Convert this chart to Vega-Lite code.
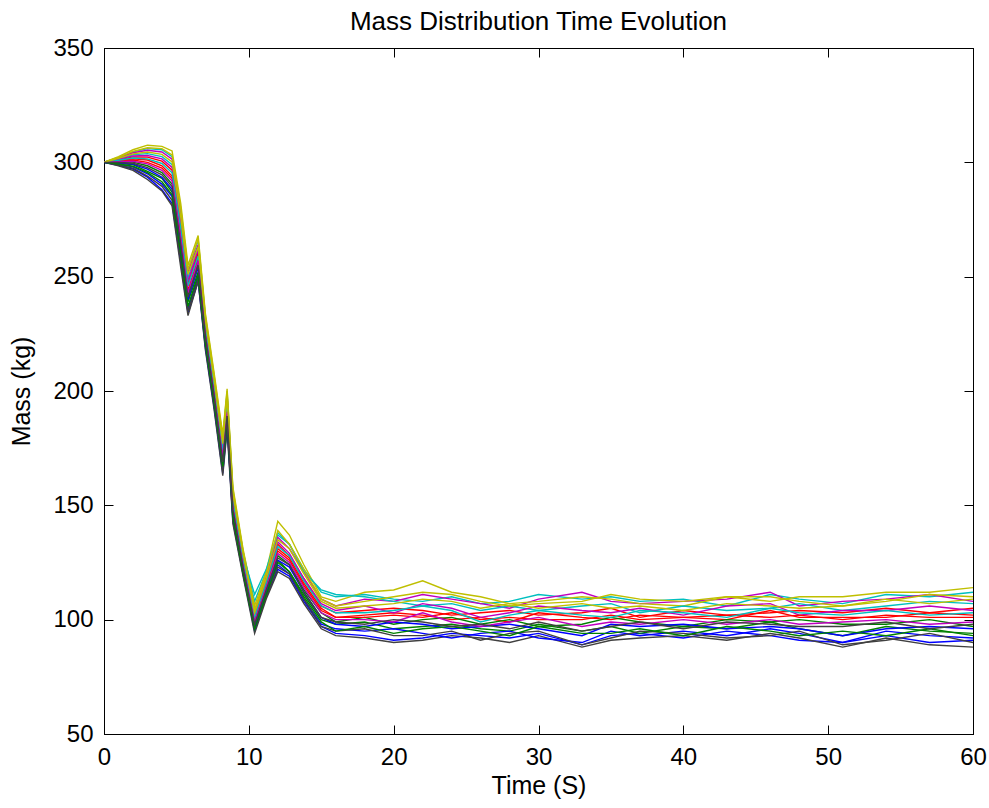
{
"$schema": "https://vega.github.io/schema/vega-lite/v6.json",
"width": 869, "height": 686,
"autosize": {"type": "none"},
"padding": {"left": 104, "top": 48, "right": 16, "bottom": 74},
"background": "white",
"title": {"text": "Mass Distribution Time Evolution", "fontSize": 26, "font": "Liberation Sans", "fontWeight": "normal", "color": "#000000", "offset": 1, "frame": "group"},
"config": {
  "view": {"stroke": "#000000", "strokeWidth": 1},
  "axis": {"domainColor": "#000000", "domainWidth": 1, "tickColor": "#000000", "tickSize": -9, "tickWidth": 1, "grid": false, "labelFlush": false,
    "labelFont": "Liberation Sans", "labelFontSize": 24, "labelColor": "#000000", "labelPadding": 20,
    "titleFont": "Liberation Sans", "titleFontSize": 25, "titleFontWeight": "normal", "titleColor": "#000000"}
},
"datasets": {"mass": [
{"s":"01","t":0,"m":300},{"s":"01","t":1,"m":298.7},{"s":"01","t":2,"m":297},{"s":"01","t":3,"m":293.5},{"s":"01","t":4,"m":288},{"s":"01","t":4.7,"m":282},{"s":"01","t":5.3,"m":256},{"s":"01","t":5.8,"m":234},{"s":"01","t":6.5,"m":248},{"s":"01","t":7,"m":219},{"s":"01","t":7.6,"m":193},{"s":"01","t":8.2,"m":164},{"s":"01","t":8.5,"m":185},{"s":"01","t":8.9,"m":143},{"s":"01","t":9.6,"m":120},{"s":"01","t":10.4,"m":95},{"s":"01","t":11.2,"m":110},{"s":"01","t":12,"m":122},{"s":"01","t":12.8,"m":119},{"s":"01","t":13.8,"m":108},{"s":"01","t":15,"m":97},{"s":"01","t":16,"m":94},{"s":"01","t":18,"m":93},{"s":"01","t":20,"m":91},{"s":"01","t":22,"m":92},{"s":"01","t":24,"m":94},{"s":"01","t":26,"m":93},{"s":"01","t":28,"m":92},{"s":"01","t":30,"m":94},{"s":"01","t":33,"m":89},{"s":"01","t":35,"m":93},{"s":"01","t":37,"m":94},{"s":"01","t":40,"m":92},{"s":"01","t":43,"m":95},{"s":"01","t":46,"m":93},{"s":"01","t":48,"m":91},{"s":"01","t":51,"m":90},{"s":"01","t":54,"m":93},{"s":"01","t":57,"m":90},{"s":"01","t":60,"m":91},
{"s":"02","t":0,"m":300},{"s":"02","t":1,"m":299.5},{"s":"02","t":2,"m":299},{"s":"02","t":3,"m":296},{"s":"02","t":4,"m":293},{"s":"02","t":4.7,"m":287},{"s":"02","t":5.3,"m":262},{"s":"02","t":5.8,"m":239},{"s":"02","t":6.5,"m":252},{"s":"02","t":7,"m":222},{"s":"02","t":7.6,"m":196},{"s":"02","t":8.2,"m":167},{"s":"02","t":8.5,"m":188},{"s":"02","t":8.9,"m":146},{"s":"02","t":9.6,"m":122},{"s":"02","t":10.4,"m":97},{"s":"02","t":11.2,"m":113},{"s":"02","t":12,"m":126},{"s":"02","t":12.8,"m":121},{"s":"02","t":13.8,"m":111},{"s":"02","t":15,"m":100},{"s":"02","t":16,"m":98},{"s":"02","t":18,"m":99},{"s":"02","t":20,"m":96},{"s":"02","t":22,"m":97},{"s":"02","t":24,"m":98},{"s":"02","t":26,"m":96},{"s":"02","t":28,"m":95},{"s":"02","t":30,"m":98},{"s":"02","t":33,"m":95},{"s":"02","t":35,"m":97},{"s":"02","t":37,"m":94},{"s":"02","t":40,"m":97},{"s":"02","t":43,"m":96},{"s":"02","t":46,"m":99},{"s":"02","t":48,"m":96},{"s":"02","t":51,"m":93},{"s":"02","t":54,"m":97},{"s":"02","t":57,"m":95},{"s":"02","t":60,"m":94},
{"s":"03","t":0,"m":300},{"s":"03","t":1,"m":300.7},{"s":"03","t":2,"m":301.5},{"s":"03","t":3,"m":301},{"s":"03","t":4,"m":298.5},{"s":"03","t":4.7,"m":294},{"s":"03","t":5.3,"m":270},{"s":"03","t":5.8,"m":246},{"s":"03","t":6.5,"m":260},{"s":"03","t":7,"m":227},{"s":"03","t":7.6,"m":201},{"s":"03","t":8.2,"m":173},{"s":"03","t":8.5,"m":193},{"s":"03","t":8.9,"m":151},{"s":"03","t":9.6,"m":126},{"s":"03","t":10.4,"m":101},{"s":"03","t":11.2,"m":116},{"s":"03","t":12,"m":131},{"s":"03","t":12.8,"m":127},{"s":"03","t":13.8,"m":116},{"s":"03","t":15,"m":105},{"s":"03","t":16,"m":101},{"s":"03","t":18,"m":102},{"s":"03","t":20,"m":103},{"s":"03","t":22,"m":102},{"s":"03","t":24,"m":100},{"s":"03","t":26,"m":101},{"s":"03","t":28,"m":99},{"s":"03","t":30,"m":103},{"s":"03","t":33,"m":101},{"s":"03","t":35,"m":100},{"s":"03","t":37,"m":102},{"s":"03","t":40,"m":101},{"s":"03","t":43,"m":100},{"s":"03","t":46,"m":104},{"s":"03","t":48,"m":101},{"s":"03","t":51,"m":101},{"s":"03","t":54,"m":101},{"s":"03","t":57,"m":103},{"s":"03","t":60,"m":102},
{"s":"04","t":0,"m":300},{"s":"04","t":1,"m":302.1},{"s":"04","t":2,"m":304.6},{"s":"04","t":3,"m":306},{"s":"04","t":4,"m":305.5},{"s":"04","t":4.7,"m":302.5},{"s":"04","t":5.3,"m":279},{"s":"04","t":5.8,"m":253},{"s":"04","t":6.5,"m":266},{"s":"04","t":7,"m":232},{"s":"04","t":7.6,"m":206},{"s":"04","t":8.2,"m":179},{"s":"04","t":8.5,"m":199},{"s":"04","t":8.9,"m":156},{"s":"04","t":9.6,"m":130},{"s":"04","t":10.4,"m":108},{"s":"04","t":11.2,"m":121},{"s":"04","t":12,"m":137},{"s":"04","t":12.8,"m":133},{"s":"04","t":13.8,"m":122},{"s":"04","t":15,"m":112},{"s":"04","t":16,"m":110},{"s":"04","t":18,"m":111},{"s":"04","t":20,"m":109},{"s":"04","t":22,"m":108},{"s":"04","t":24,"m":110},{"s":"04","t":26,"m":107},{"s":"04","t":28,"m":108},{"s":"04","t":30,"m":111},{"s":"04","t":33,"m":109},{"s":"04","t":35,"m":110},{"s":"04","t":37,"m":108},{"s":"04","t":40,"m":109},{"s":"04","t":43,"m":106},{"s":"04","t":46,"m":111},{"s":"04","t":48,"m":109},{"s":"04","t":51,"m":107},{"s":"04","t":54,"m":111},{"s":"04","t":57,"m":110},{"s":"04","t":60,"m":112},
{"s":"05","t":0,"m":300},{"s":"05","t":1,"m":301.9},{"s":"05","t":2,"m":304.2},{"s":"05","t":3,"m":305.3},{"s":"05","t":4,"m":304.5},{"s":"05","t":4.7,"m":301.4},{"s":"05","t":5.3,"m":277},{"s":"05","t":5.8,"m":252},{"s":"05","t":6.5,"m":264},{"s":"05","t":7,"m":231},{"s":"05","t":7.6,"m":205},{"s":"05","t":8.2,"m":178},{"s":"05","t":8.5,"m":198},{"s":"05","t":8.9,"m":155},{"s":"05","t":9.6,"m":129},{"s":"05","t":10.4,"m":104},{"s":"05","t":11.2,"m":119},{"s":"05","t":12,"m":136},{"s":"05","t":12.8,"m":131},{"s":"05","t":13.8,"m":121},{"s":"05","t":15,"m":109},{"s":"05","t":16,"m":106},{"s":"05","t":18,"m":109},{"s":"05","t":20,"m":108},{"s":"05","t":22,"m":111},{"s":"05","t":24,"m":109},{"s":"05","t":26,"m":107},{"s":"05","t":28,"m":105},{"s":"05","t":30,"m":109},{"s":"05","t":33,"m":112},{"s":"05","t":35,"m":108},{"s":"05","t":37,"m":107},{"s":"05","t":40,"m":108},{"s":"05","t":43,"m":109},{"s":"05","t":46,"m":112},{"s":"05","t":48,"m":106},{"s":"05","t":51,"m":108},{"s":"05","t":54,"m":109},{"s":"05","t":57,"m":111},{"s":"05","t":60,"m":108},
{"s":"06","t":0,"m":300},{"s":"06","t":1,"m":302.5},{"s":"06","t":2,"m":305.5},{"s":"06","t":3,"m":307.5},{"s":"06","t":4,"m":307},{"s":"06","t":4.7,"m":305},{"s":"06","t":5.3,"m":282},{"s":"06","t":5.8,"m":255},{"s":"06","t":6.5,"m":268},{"s":"06","t":7,"m":234},{"s":"06","t":7.6,"m":208},{"s":"06","t":8.2,"m":181},{"s":"06","t":8.5,"m":201},{"s":"06","t":8.9,"m":158},{"s":"06","t":9.6,"m":131},{"s":"06","t":10.4,"m":106},{"s":"06","t":11.2,"m":121},{"s":"06","t":12,"m":143},{"s":"06","t":12.8,"m":137},{"s":"06","t":13.8,"m":124},{"s":"06","t":15,"m":110},{"s":"06","t":16,"m":108},{"s":"06","t":18,"m":112},{"s":"06","t":20,"m":113},{"s":"06","t":22,"m":117},{"s":"06","t":24,"m":112},{"s":"06","t":26,"m":110},{"s":"06","t":28,"m":107},{"s":"06","t":30,"m":108},{"s":"06","t":33,"m":110},{"s":"06","t":35,"m":109},{"s":"06","t":37,"m":107},{"s":"06","t":40,"m":106},{"s":"06","t":43,"m":110},{"s":"06","t":46,"m":108},{"s":"06","t":48,"m":110},{"s":"06","t":51,"m":110},{"s":"06","t":54,"m":112},{"s":"06","t":57,"m":112},{"s":"06","t":60,"m":114},
{"s":"07","t":0,"m":300},{"s":"07","t":1,"m":298.5},{"s":"07","t":2,"m":296.5},{"s":"07","t":3,"m":292.5},{"s":"07","t":4,"m":287.5},{"s":"07","t":4.7,"m":281},{"s":"07","t":5.3,"m":254},{"s":"07","t":5.8,"m":233},{"s":"07","t":6.5,"m":248},{"s":"07","t":7,"m":218},{"s":"07","t":7.6,"m":192},{"s":"07","t":8.2,"m":163},{"s":"07","t":8.5,"m":183},{"s":"07","t":8.9,"m":142},{"s":"07","t":9.6,"m":119},{"s":"07","t":10.4,"m":94},{"s":"07","t":11.2,"m":109},{"s":"07","t":12,"m":121},{"s":"07","t":12.8,"m":118},{"s":"07","t":13.8,"m":107},{"s":"07","t":15,"m":96},{"s":"07","t":16,"m":93},{"s":"07","t":18,"m":92},{"s":"07","t":20,"m":90},{"s":"07","t":22,"m":91},{"s":"07","t":24,"m":93},{"s":"07","t":26,"m":92},{"s":"07","t":28,"m":90},{"s":"07","t":30,"m":93},{"s":"07","t":33,"m":88},{"s":"07","t":35,"m":91},{"s":"07","t":37,"m":92},{"s":"07","t":40,"m":93},{"s":"07","t":43,"m":91},{"s":"07","t":46,"m":94},{"s":"07","t":48,"m":92},{"s":"07","t":51,"m":88},{"s":"07","t":54,"m":92},{"s":"07","t":57,"m":89},{"s":"07","t":60,"m":88},
{"s":"08","t":0,"m":300},{"s":"08","t":1,"m":299.1},{"s":"08","t":2,"m":298},{"s":"08","t":3,"m":295},{"s":"08","t":4,"m":290.5},{"s":"08","t":4.7,"m":285},{"s":"08","t":5.3,"m":258},{"s":"08","t":5.8,"m":236},{"s":"08","t":6.5,"m":250},{"s":"08","t":7,"m":220},{"s":"08","t":7.6,"m":194},{"s":"08","t":8.2,"m":166},{"s":"08","t":8.5,"m":186},{"s":"08","t":8.9,"m":145},{"s":"08","t":9.6,"m":121},{"s":"08","t":10.4,"m":96},{"s":"08","t":11.2,"m":111},{"s":"08","t":12,"m":124},{"s":"08","t":12.8,"m":120},{"s":"08","t":13.8,"m":109},{"s":"08","t":15,"m":98},{"s":"08","t":16,"m":96},{"s":"08","t":18,"m":95},{"s":"08","t":20,"m":96},{"s":"08","t":22,"m":94},{"s":"08","t":24,"m":92},{"s":"08","t":26,"m":94},{"s":"08","t":28,"m":95},{"s":"08","t":30,"m":92},{"s":"08","t":33,"m":90},{"s":"08","t":35,"m":95},{"s":"08","t":37,"m":93},{"s":"08","t":40,"m":95},{"s":"08","t":43,"m":93},{"s":"08","t":46,"m":96},{"s":"08","t":48,"m":94},{"s":"08","t":51,"m":90},{"s":"08","t":54,"m":95},{"s":"08","t":57,"m":93},{"s":"08","t":60,"m":92},
{"s":"09","t":0,"m":300},{"s":"09","t":1,"m":300.1},{"s":"09","t":2,"m":300.1},{"s":"09","t":3,"m":298.5},{"s":"09","t":4,"m":295.5},{"s":"09","t":4.7,"m":290.5},{"s":"09","t":5.3,"m":265},{"s":"09","t":5.8,"m":242},{"s":"09","t":6.5,"m":256},{"s":"09","t":7,"m":224},{"s":"09","t":7.6,"m":198},{"s":"09","t":8.2,"m":170},{"s":"09","t":8.5,"m":190},{"s":"09","t":8.9,"m":148},{"s":"09","t":9.6,"m":124},{"s":"09","t":10.4,"m":99},{"s":"09","t":11.2,"m":114},{"s":"09","t":12,"m":128},{"s":"09","t":12.8,"m":124},{"s":"09","t":13.8,"m":113},{"s":"09","t":15,"m":103},{"s":"09","t":16,"m":99},{"s":"09","t":18,"m":101},{"s":"09","t":20,"m":98},{"s":"09","t":22,"m":100},{"s":"09","t":24,"m":101},{"s":"09","t":26,"m":98},{"s":"09","t":28,"m":100},{"s":"09","t":30,"m":97},{"s":"09","t":33,"m":98},{"s":"09","t":35,"m":101},{"s":"09","t":37,"m":99},{"s":"09","t":40,"m":97},{"s":"09","t":43,"m":100},{"s":"09","t":46,"m":99},{"s":"09","t":48,"m":100},{"s":"09","t":51,"m":98},{"s":"09","t":54,"m":98},{"s":"09","t":57,"m":100},{"s":"09","t":60,"m":97},
{"s":"10","t":0,"m":300},{"s":"10","t":1,"m":301.1},{"s":"10","t":2,"m":302.4},{"s":"10","t":3,"m":302.3},{"s":"10","t":4,"m":300.5},{"s":"10","t":4.7,"m":296.6},{"s":"10","t":5.3,"m":272},{"s":"10","t":5.8,"m":247},{"s":"10","t":6.5,"m":261},{"s":"10","t":7,"m":228},{"s":"10","t":7.6,"m":202},{"s":"10","t":8.2,"m":175},{"s":"10","t":8.5,"m":195},{"s":"10","t":8.9,"m":152},{"s":"10","t":9.6,"m":127},{"s":"10","t":10.4,"m":102},{"s":"10","t":11.2,"m":117},{"s":"10","t":12,"m":133},{"s":"10","t":12.8,"m":128},{"s":"10","t":13.8,"m":118},{"s":"10","t":15,"m":106},{"s":"10","t":16,"m":103},{"s":"10","t":18,"m":104},{"s":"10","t":20,"m":105},{"s":"10","t":22,"m":104},{"s":"10","t":24,"m":102},{"s":"10","t":26,"m":103},{"s":"10","t":28,"m":104},{"s":"10","t":30,"m":102},{"s":"10","t":33,"m":103},{"s":"10","t":35,"m":105},{"s":"10","t":37,"m":101},{"s":"10","t":40,"m":104},{"s":"10","t":43,"m":102},{"s":"10","t":46,"m":103},{"s":"10","t":48,"m":104},{"s":"10","t":51,"m":103},{"s":"10","t":54,"m":105},{"s":"10","t":57,"m":103},{"s":"10","t":60,"m":105},
{"s":"11","t":0,"m":300},{"s":"11","t":1,"m":301.5},{"s":"11","t":2,"m":303.3},{"s":"11","t":3,"m":303.8},{"s":"11","t":4,"m":302.5},{"s":"11","t":4.7,"m":299},{"s":"11","t":5.3,"m":275},{"s":"11","t":5.8,"m":249.5},{"s":"11","t":6.5,"m":263},{"s":"11","t":7,"m":230},{"s":"11","t":7.6,"m":204},{"s":"11","t":8.2,"m":176.5},{"s":"11","t":8.5,"m":196.5},{"s":"11","t":8.9,"m":154},{"s":"11","t":9.6,"m":128},{"s":"11","t":10.4,"m":111},{"s":"11","t":11.2,"m":122},{"s":"11","t":12,"m":138},{"s":"11","t":12.8,"m":133},{"s":"11","t":13.8,"m":121},{"s":"11","t":15,"m":113},{"s":"11","t":16,"m":111},{"s":"11","t":18,"m":110},{"s":"11","t":20,"m":108},{"s":"11","t":22,"m":106},{"s":"11","t":24,"m":107},{"s":"11","t":26,"m":104},{"s":"11","t":28,"m":106},{"s":"11","t":30,"m":104},{"s":"11","t":33,"m":106},{"s":"11","t":35,"m":107},{"s":"11","t":37,"m":103},{"s":"11","t":40,"m":106},{"s":"11","t":43,"m":104},{"s":"11","t":46,"m":105},{"s":"11","t":48,"m":107},{"s":"11","t":51,"m":104},{"s":"11","t":54,"m":106},{"s":"11","t":57,"m":108},{"s":"11","t":60,"m":107},
{"s":"12","t":0,"m":300},{"s":"12","t":1,"m":301.3},{"s":"12","t":2,"m":302.8},{"s":"12","t":3,"m":303},{"s":"12","t":4,"m":301.5},{"s":"12","t":4.7,"m":297.8},{"s":"12","t":5.3,"m":274},{"s":"12","t":5.8,"m":248},{"s":"12","t":6.5,"m":262},{"s":"12","t":7,"m":229},{"s":"12","t":7.6,"m":203},{"s":"12","t":8.2,"m":176},{"s":"12","t":8.5,"m":196},{"s":"12","t":8.9,"m":153},{"s":"12","t":9.6,"m":127},{"s":"12","t":10.4,"m":102},{"s":"12","t":11.2,"m":117},{"s":"12","t":12,"m":134},{"s":"12","t":12.8,"m":129},{"s":"12","t":13.8,"m":118},{"s":"12","t":15,"m":107},{"s":"12","t":16,"m":104},{"s":"12","t":18,"m":106},{"s":"12","t":20,"m":103},{"s":"12","t":22,"m":107},{"s":"12","t":24,"m":105},{"s":"12","t":26,"m":101},{"s":"12","t":28,"m":103},{"s":"12","t":30,"m":106},{"s":"12","t":33,"m":104},{"s":"12","t":35,"m":103},{"s":"12","t":37,"m":105},{"s":"12","t":40,"m":102},{"s":"12","t":43,"m":106},{"s":"12","t":46,"m":107},{"s":"12","t":48,"m":102},{"s":"12","t":51,"m":104},{"s":"12","t":54,"m":104},{"s":"12","t":57,"m":106},{"s":"12","t":60,"m":104},
{"s":"13","t":0,"m":300},{"s":"13","t":1,"m":302.2},{"s":"13","t":2,"m":304.8},{"s":"13","t":3,"m":306.4},{"s":"13","t":4,"m":306},{"s":"13","t":4.7,"m":303.2},{"s":"13","t":5.3,"m":280},{"s":"13","t":5.8,"m":253},{"s":"13","t":6.5,"m":266.5},{"s":"13","t":7,"m":233},{"s":"13","t":7.6,"m":207},{"s":"13","t":8.2,"m":180},{"s":"13","t":8.5,"m":200},{"s":"13","t":8.9,"m":157},{"s":"13","t":9.6,"m":130},{"s":"13","t":10.4,"m":104},{"s":"13","t":11.2,"m":120},{"s":"13","t":12,"m":139},{"s":"13","t":12.8,"m":133},{"s":"13","t":13.8,"m":122},{"s":"13","t":15,"m":109},{"s":"13","t":16,"m":106},{"s":"13","t":18,"m":108},{"s":"13","t":20,"m":110},{"s":"13","t":22,"m":112},{"s":"13","t":24,"m":111},{"s":"13","t":26,"m":108},{"s":"13","t":28,"m":106},{"s":"13","t":30,"m":107},{"s":"13","t":33,"m":108},{"s":"13","t":35,"m":111},{"s":"13","t":37,"m":109},{"s":"13","t":40,"m":108},{"s":"13","t":43,"m":110},{"s":"13","t":46,"m":110},{"s":"13","t":48,"m":108},{"s":"13","t":51,"m":106},{"s":"13","t":54,"m":108},{"s":"13","t":57,"m":111},{"s":"13","t":60,"m":110},
{"s":"14","t":0,"m":300},{"s":"14","t":1,"m":298.9},{"s":"14","t":2,"m":297.4},{"s":"14","t":3,"m":294},{"s":"14","t":4,"m":289.5},{"s":"14","t":4.7,"m":283.4},{"s":"14","t":5.3,"m":257},{"s":"14","t":5.8,"m":235},{"s":"14","t":6.5,"m":249},{"s":"14","t":7,"m":220},{"s":"14","t":7.6,"m":194},{"s":"14","t":8.2,"m":165},{"s":"14","t":8.5,"m":185},{"s":"14","t":8.9,"m":144},{"s":"14","t":9.6,"m":120},{"s":"14","t":10.4,"m":96},{"s":"14","t":11.2,"m":110},{"s":"14","t":12,"m":123},{"s":"14","t":12.8,"m":120},{"s":"14","t":13.8,"m":109},{"s":"14","t":15,"m":97},{"s":"14","t":16,"m":95},{"s":"14","t":18,"m":96},{"s":"14","t":20,"m":93},{"s":"14","t":22,"m":93},{"s":"14","t":24,"m":95},{"s":"14","t":26,"m":91},{"s":"14","t":28,"m":94},{"s":"14","t":30,"m":95},{"s":"14","t":33,"m":89},{"s":"14","t":35,"m":92},{"s":"14","t":37,"m":95},{"s":"14","t":40,"m":94},{"s":"14","t":43,"m":92},{"s":"14","t":46,"m":93},{"s":"14","t":48,"m":95},{"s":"14","t":51,"m":89},{"s":"14","t":54,"m":91},{"s":"14","t":57,"m":94},{"s":"14","t":60,"m":90},
{"s":"15","t":0,"m":300},{"s":"15","t":1,"m":299.7},{"s":"15","t":2,"m":299.2},{"s":"15","t":3,"m":297},{"s":"15","t":4,"m":293.5},{"s":"15","t":4.7,"m":288.2},{"s":"15","t":5.3,"m":262},{"s":"15","t":5.8,"m":240},{"s":"15","t":6.5,"m":254},{"s":"15","t":7,"m":223},{"s":"15","t":7.6,"m":197},{"s":"15","t":8.2,"m":168},{"s":"15","t":8.5,"m":188},{"s":"15","t":8.9,"m":147},{"s":"15","t":9.6,"m":123},{"s":"15","t":10.4,"m":97},{"s":"15","t":11.2,"m":112},{"s":"15","t":12,"m":126},{"s":"15","t":12.8,"m":123},{"s":"15","t":13.8,"m":112},{"s":"15","t":15,"m":101},{"s":"15","t":16,"m":98},{"s":"15","t":18,"m":97},{"s":"15","t":20,"m":99},{"s":"15","t":22,"m":98},{"s":"15","t":24,"m":96},{"s":"15","t":26,"m":97},{"s":"15","t":28,"m":98},{"s":"15","t":30,"m":96},{"s":"15","t":33,"m":93},{"s":"15","t":35,"m":98},{"s":"15","t":37,"m":97},{"s":"15","t":40,"m":98},{"s":"15","t":43,"m":96},{"s":"15","t":46,"m":97},{"s":"15","t":48,"m":96},{"s":"15","t":51,"m":93},{"s":"15","t":54,"m":96},{"s":"15","t":57,"m":97},{"s":"15","t":60,"m":96},
{"s":"16","t":0,"m":300},{"s":"16","t":1,"m":299.3},{"s":"16","t":2,"m":298.3},{"s":"16","t":3,"m":295.5},{"s":"16","t":4,"m":291.5},{"s":"16","t":4.7,"m":285.8},{"s":"16","t":5.3,"m":260},{"s":"16","t":5.8,"m":237},{"s":"16","t":6.5,"m":251},{"s":"16","t":7,"m":221},{"s":"16","t":7.6,"m":195},{"s":"16","t":8.2,"m":167},{"s":"16","t":8.5,"m":187},{"s":"16","t":8.9,"m":145},{"s":"16","t":9.6,"m":121},{"s":"16","t":10.4,"m":96},{"s":"16","t":11.2,"m":111},{"s":"16","t":12,"m":125},{"s":"16","t":12.8,"m":121},{"s":"16","t":13.8,"m":110},{"s":"16","t":15,"m":99},{"s":"16","t":16,"m":95},{"s":"16","t":18,"m":97},{"s":"16","t":20,"m":94},{"s":"16","t":22,"m":96},{"s":"16","t":24,"m":97},{"s":"16","t":26,"m":95},{"s":"16","t":28,"m":93},{"s":"16","t":30,"m":97},{"s":"16","t":33,"m":94},{"s":"16","t":35,"m":94},{"s":"16","t":37,"m":96},{"s":"16","t":40,"m":93},{"s":"16","t":43,"m":97},{"s":"16","t":46,"m":95},{"s":"16","t":48,"m":93},{"s":"16","t":51,"m":95},{"s":"16","t":54,"m":93},{"s":"16","t":57,"m":96},{"s":"16","t":60,"m":93},
{"s":"17","t":0,"m":300},{"s":"17","t":1,"m":300.5},{"s":"17","t":2,"m":301},{"s":"17","t":3,"m":300},{"s":"17","t":4,"m":297.5},{"s":"17","t":4.7,"m":293},{"s":"17","t":5.3,"m":268},{"s":"17","t":5.8,"m":244},{"s":"17","t":6.5,"m":258},{"s":"17","t":7,"m":226},{"s":"17","t":7.6,"m":200},{"s":"17","t":8.2,"m":172},{"s":"17","t":8.5,"m":192},{"s":"17","t":8.9,"m":150},{"s":"17","t":9.6,"m":125},{"s":"17","t":10.4,"m":100},{"s":"17","t":11.2,"m":115},{"s":"17","t":12,"m":130},{"s":"17","t":12.8,"m":126},{"s":"17","t":13.8,"m":115},{"s":"17","t":15,"m":104},{"s":"17","t":16,"m":101},{"s":"17","t":18,"m":101},{"s":"17","t":20,"m":102},{"s":"17","t":22,"m":101},{"s":"17","t":24,"m":103},{"s":"17","t":26,"m":100},{"s":"17","t":28,"m":101},{"s":"17","t":30,"m":100},{"s":"17","t":33,"m":100},{"s":"17","t":35,"m":102},{"s":"17","t":37,"m":100},{"s":"17","t":40,"m":101},{"s":"17","t":43,"m":102},{"s":"17","t":46,"m":101},{"s":"17","t":48,"m":102},{"s":"17","t":51,"m":100},{"s":"17","t":54,"m":102},{"s":"17","t":57,"m":101},{"s":"17","t":60,"m":101},
{"s":"18","t":0,"m":300},{"s":"18","t":1,"m":300.9},{"s":"18","t":2,"m":301.9},{"s":"18","t":3,"m":301.5},{"s":"18","t":4,"m":299.5},{"s":"18","t":4.7,"m":295.4},{"s":"18","t":5.3,"m":271},{"s":"18","t":5.8,"m":246},{"s":"18","t":6.5,"m":259},{"s":"18","t":7,"m":228},{"s":"18","t":7.6,"m":202},{"s":"18","t":8.2,"m":174},{"s":"18","t":8.5,"m":194},{"s":"18","t":8.9,"m":152},{"s":"18","t":9.6,"m":126},{"s":"18","t":10.4,"m":101},{"s":"18","t":11.2,"m":116},{"s":"18","t":12,"m":132},{"s":"18","t":12.8,"m":128},{"s":"18","t":13.8,"m":117},{"s":"18","t":15,"m":106},{"s":"18","t":16,"m":103},{"s":"18","t":18,"m":103},{"s":"18","t":20,"m":104},{"s":"18","t":22,"m":106},{"s":"18","t":24,"m":104},{"s":"18","t":26,"m":99},{"s":"18","t":28,"m":102},{"s":"18","t":30,"m":104},{"s":"18","t":33,"m":102},{"s":"18","t":35,"m":101},{"s":"18","t":37,"m":104},{"s":"18","t":40,"m":103},{"s":"18","t":43,"m":101},{"s":"18","t":46,"m":105},{"s":"18","t":48,"m":103},{"s":"18","t":51,"m":102},{"s":"18","t":54,"m":104},{"s":"18","t":57,"m":102},{"s":"18","t":60,"m":103},
{"s":"19","t":0,"m":300},{"s":"19","t":1,"m":300.3},{"s":"19","t":2,"m":300.5},{"s":"19","t":3,"m":299.3},{"s":"19","t":4,"m":296.5},{"s":"19","t":4.7,"m":291.8},{"s":"19","t":5.3,"m":267},{"s":"19","t":5.8,"m":243},{"s":"19","t":6.5,"m":257},{"s":"19","t":7,"m":225},{"s":"19","t":7.6,"m":199},{"s":"19","t":8.2,"m":171},{"s":"19","t":8.5,"m":191},{"s":"19","t":8.9,"m":149},{"s":"19","t":9.6,"m":124},{"s":"19","t":10.4,"m":99},{"s":"19","t":11.2,"m":114},{"s":"19","t":12,"m":129},{"s":"19","t":12.8,"m":125},{"s":"19","t":13.8,"m":114},{"s":"19","t":15,"m":103},{"s":"19","t":16,"m":100},{"s":"19","t":18,"m":100},{"s":"19","t":20,"m":99},{"s":"19","t":22,"m":103},{"s":"19","t":24,"m":99},{"s":"19","t":26,"m":97},{"s":"19","t":28,"m":99},{"s":"19","t":30,"m":101},{"s":"19","t":33,"m":97},{"s":"19","t":35,"m":99},{"s":"19","t":37,"m":98},{"s":"19","t":40,"m":100},{"s":"19","t":43,"m":98},{"s":"19","t":46,"m":100},{"s":"19","t":48,"m":98},{"s":"19","t":51,"m":99},{"s":"19","t":54,"m":100},{"s":"19","t":57,"m":98},{"s":"19","t":60,"m":99},
{"s":"20","t":0,"m":300},{"s":"20","t":1,"m":301.7},{"s":"20","t":2,"m":303.7},{"s":"20","t":3,"m":304.5},{"s":"20","t":4,"m":303.5},{"s":"20","t":4.7,"m":300.2},{"s":"20","t":5.3,"m":276},{"s":"20","t":5.8,"m":251},{"s":"20","t":6.5,"m":263},{"s":"20","t":7,"m":231},{"s":"20","t":7.6,"m":205},{"s":"20","t":8.2,"m":177},{"s":"20","t":8.5,"m":197},{"s":"20","t":8.9,"m":155},{"s":"20","t":9.6,"m":129},{"s":"20","t":10.4,"m":103},{"s":"20","t":11.2,"m":118},{"s":"20","t":12,"m":135},{"s":"20","t":12.8,"m":131},{"s":"20","t":13.8,"m":120},{"s":"20","t":15,"m":108},{"s":"20","t":16,"m":105},{"s":"20","t":18,"m":106},{"s":"20","t":20,"m":107},{"s":"20","t":22,"m":109},{"s":"20","t":24,"m":108},{"s":"20","t":26,"m":105},{"s":"20","t":28,"m":107},{"s":"20","t":30,"m":105},{"s":"20","t":33,"m":107},{"s":"20","t":35,"m":105},{"s":"20","t":37,"m":106},{"s":"20","t":40,"m":104},{"s":"20","t":43,"m":107},{"s":"20","t":46,"m":106},{"s":"20","t":48,"m":105},{"s":"20","t":51,"m":106},{"s":"20","t":54,"m":109},{"s":"20","t":57,"m":107},{"s":"20","t":60,"m":109},
{"s":"21","t":0,"m":300},{"s":"21","t":1,"m":299.9},{"s":"21","t":2,"m":299.6},{"s":"21","t":3,"m":297.7},{"s":"21","t":4,"m":294.5},{"s":"21","t":4.7,"m":289.4},{"s":"21","t":5.3,"m":264},{"s":"21","t":5.8,"m":241},{"s":"21","t":6.5,"m":255},{"s":"21","t":7,"m":224},{"s":"21","t":7.6,"m":198},{"s":"21","t":8.2,"m":169},{"s":"21","t":8.5,"m":189},{"s":"21","t":8.9,"m":148},{"s":"21","t":9.6,"m":123},{"s":"21","t":10.4,"m":98},{"s":"21","t":11.2,"m":113},{"s":"21","t":12,"m":127},{"s":"21","t":12.8,"m":124},{"s":"21","t":13.8,"m":112},{"s":"21","t":15,"m":101},{"s":"21","t":16,"m":99},{"s":"21","t":18,"m":98},{"s":"21","t":20,"m":100},{"s":"21","t":22,"m":99},{"s":"21","t":24,"m":97},{"s":"21","t":26,"m":98},{"s":"21","t":28,"m":96},{"s":"21","t":30,"m":99},{"s":"21","t":33,"m":95},{"s":"21","t":35,"m":97},{"s":"21","t":37,"m":99},{"s":"21","t":40,"m":96},{"s":"21","t":43,"m":99},{"s":"21","t":46,"m":98},{"s":"21","t":48,"m":97},{"s":"21","t":51,"m":97},{"s":"21","t":54,"m":99},{"s":"21","t":57,"m":96},{"s":"21","t":60,"m":98}
]},
"data": {"name": "mass"},
"layer": [
  {"mark": {"type": "line", "strokeWidth": 1.4, "clip": true},
   "encoding": {
     "x": {"field": "t", "type": "quantitative", "scale": {"domain": [0, 60], "nice": false},
           "axis": {"orient": "bottom", "values": [0, 10, 20, 30, 40, 50, 60], "title": "Time (S)"}},
     "y": {"field": "m", "type": "quantitative", "scale": {"domain": [50, 350], "nice": false, "zero": false},
           "axis": {"orient": "left", "values": [50, 100, 150, 200, 250, 300, 350], "title": "Mass (kg)", "titlePadding": 18}},
     "color": {"field": "s", "type": "nominal", "legend": null,
               "scale": {"range": ["#0000FF","#008000","#FF0000","#00BFBF","#BF00BF","#BFBF00","#404040","#0000FF","#008000","#FF0000","#00BFBF","#BF00BF","#BFBF00","#404040","#0000FF","#008000","#FF0000","#00BFBF","#BF00BF","#BFBF00","#404040"]}}
   }},
  {"mark": {"type": "line", "opacity": 0},
   "encoding": {
     "x": {"field": "t", "type": "quantitative",
           "axis": {"orient": "top", "values": [0, 10, 20, 30, 40, 50, 60], "labels": false, "title": null}},
     "y": {"field": "m", "type": "quantitative",
           "axis": {"orient": "right", "values": [50, 100, 150, 200, 250, 300, 350], "labels": false, "title": null}},
     "detail": {"field": "s"}
   }}
],
"resolve": {"axis": {"x": "independent", "y": "independent"}}
}
